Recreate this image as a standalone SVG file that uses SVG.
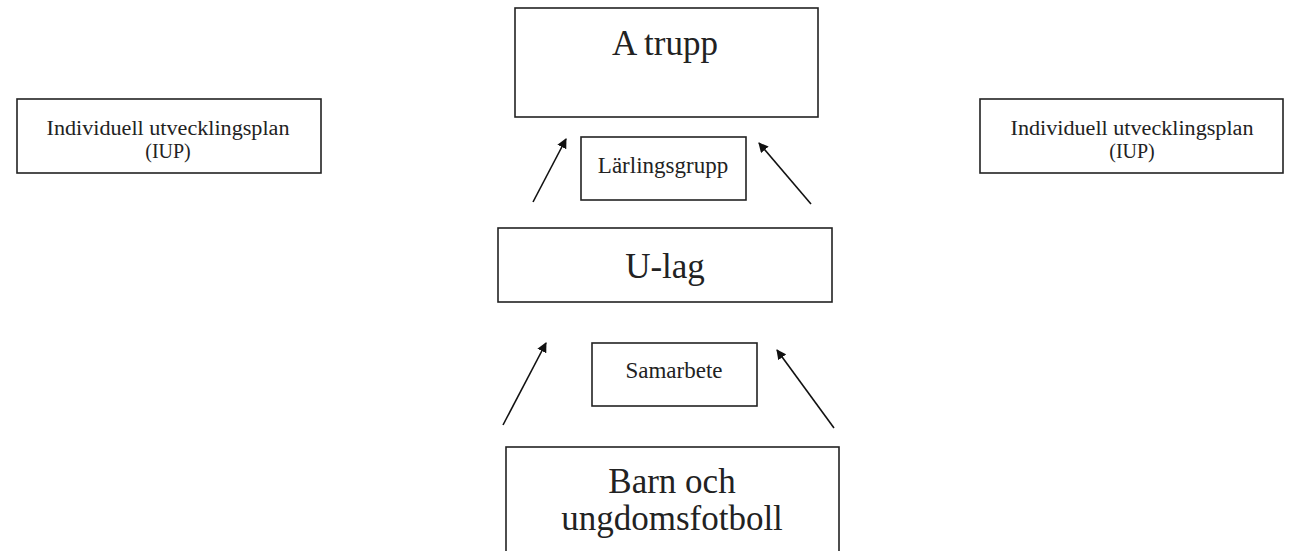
<svg xmlns="http://www.w3.org/2000/svg" width="1289" height="551" viewBox="0 0 1289 551">
<style>
.box{fill:#fff;stroke:#222;stroke-width:1.6}
.t{font-family:"Liberation Serif","DejaVu Serif",serif;fill:#222;text-anchor:middle}
.c{stroke:#111;stroke-width:1.6;fill:none}
</style>
<defs>
<marker id="ah" viewBox="0 0 10 10" refX="9" refY="5" markerWidth="10" markerHeight="10" markerUnits="userSpaceOnUse" orient="auto">
<path d="M0,0 L10,5 L0,10 z" fill="#111"/>
</marker>
</defs>
<rect width="1289" height="551" fill="#fff"/>
<g id="a-trupp">
<rect class="box" x="515" y="8" width="303" height="109"/>
<text class="t" x="665" y="55" font-size="35">A trupp</text>
</g>
<g id="larlingsgrupp">
<rect class="box" x="581" y="137" width="165" height="63"/>
<text class="t" x="663" y="173" font-size="23">Lärlingsgrupp</text>
</g>
<g id="u-lag">
<rect class="box" x="498" y="228" width="334" height="74"/>
<text class="t" x="665" y="278" font-size="35">U-lag</text>
</g>
<g id="samarbete">
<rect class="box" x="592" y="343" width="165" height="63"/>
<text class="t" x="674" y="378" font-size="23">Samarbete</text>
</g>
<g id="barn">
<rect class="box" x="506" y="447" width="333" height="120"/>
<text class="t" x="672" y="493" font-size="35">Barn och</text>
<text class="t" x="672" y="530" font-size="35">ungdomsfotboll</text>
</g>
<g id="iup-left">
<rect class="box" x="17" y="99" width="304" height="74"/>
<text class="t" x="168" y="135" font-size="20" textLength="243" lengthAdjust="spacingAndGlyphs">Individuell utvecklingsplan</text>
<text class="t" x="168" y="158" font-size="20">(IUP)</text>
</g>
<g id="iup-right">
<rect class="box" x="980" y="99" width="303" height="74"/>
<text class="t" x="1132" y="135" font-size="20" textLength="243" lengthAdjust="spacingAndGlyphs">Individuell utvecklingsplan</text>
<text class="t" x="1132" y="158" font-size="20">(IUP)</text>
</g>
<g id="connectors">
<line class="c" x1="533" y1="202" x2="566" y2="139" marker-end="url(#ah)"/>
<line class="c" x1="811" y1="204" x2="759" y2="143" marker-end="url(#ah)"/>
<line class="c" x1="503" y1="425" x2="546" y2="343" marker-end="url(#ah)"/>
<line class="c" x1="834" y1="428" x2="777" y2="350" marker-end="url(#ah)"/>
</g>
</svg>
